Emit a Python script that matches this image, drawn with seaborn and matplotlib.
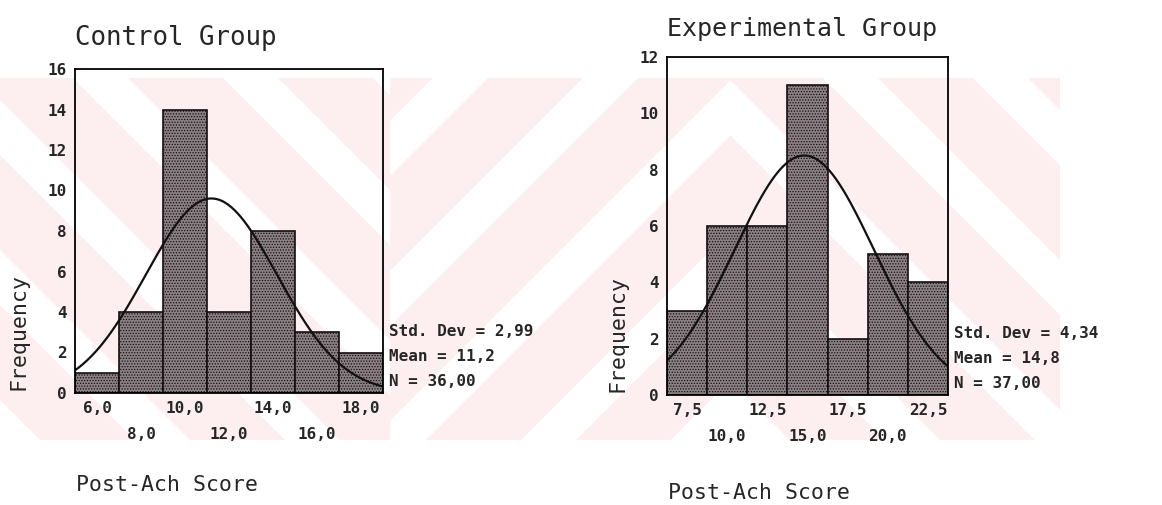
import numpy as np
import pandas as pd
import matplotlib
matplotlib.use("Agg")
import matplotlib.pyplot as plt
import seaborn as sns
from matplotlib.patches import Polygon, Rectangle

# ---- data ----
ctrl_centers = [6, 8, 10, 12, 14, 16, 18]
ctrl_counts = [1, 4, 14, 4, 8, 3, 2]
ctrl_ticklabels = ["6,0", "8,0", "10,0", "12,0", "14,0", "16,0", "18,0"]
ctrl_stats = ["Std. Dev = 2,99", "Mean = 11,2", "N = 36,00"]
ctrl_mean, ctrl_sd, ctrl_n = 11.2, 2.99, 36

exp_centers = [7.5, 10, 12.5, 15, 17.5, 20, 22.5]
exp_counts = [3, 6, 6, 11, 2, 5, 4]
exp_ticklabels = ["7,5", "10,0", "12,5", "15,0", "17,5", "20,0", "22,5"]
exp_stats = ["Std. Dev = 4,34", "Mean = 14,8", "N = 37,00"]
exp_mean, exp_sd, exp_n = 14.8, 4.34, 37

sns.set_style("white")
plt.rcParams["font.family"] = ["DejaVu Sans Mono"]
plt.rcParams["hatch.linewidth"] = 0.6

W, H = 1162, 505
fig = plt.figure(figsize=(W / 100, H / 100), dpi=100)

# faint pink watermark from the scan (drawn behind everything)
PINK = "#fdeef0"
Y0, Y1 = 78, 440


def px(x, y):
    return (x / W, 1 - y / H)


def bands(x_from, x_to, direction, offset=0, period=150, width=95):
    clip = Rectangle(px(x_from, Y1), (x_to - x_from) / W, (Y1 - Y0) / H,
                     transform=fig.transFigure, visible=False)
    fig.patches.append(clip)
    span = Y1 - Y0
    shift = span if direction == "\\" else -span
    for xt in np.arange(x_from - span - period + offset, x_to + span + period, period):
        pts = [px(xt, Y0), px(xt + width, Y0),
               px(xt + width + shift, Y1), px(xt + shift, Y1)]
        p = Polygon(pts, closed=True, transform=fig.transFigure,
                    facecolor=PINK, edgecolor="none", zorder=-10)
        p.set_clip_path(clip)
        fig.patches.append(p)


bands(0, 390, "\\", offset=40)
bands(390, 730, "/", offset=10)
bands(730, 1060, "\\", offset=60)


def panel(rect, centers, counts, width, mean, sd, n, ymax, ticklabels,
          stats, title, title_size, title_pad, xlabel_y, ylabel_x, ylabel_y):
    ax = fig.add_axes(rect)
    ax.set_facecolor("none")
    df = pd.DataFrame({"score": centers, "count": counts})
    lo, hi = centers[0] - width / 2, centers[-1] + width / 2
    sns.histplot(data=df, x="score", weights="count", binwidth=width,
                 binrange=(lo, hi), ax=ax,
                 color="#8b8184", edgecolor="#140e10", linewidth=1.2,
                 alpha=1, hatch="......")
    # fitted normal curve
    xs = np.linspace(lo, hi, 300)
    ys = n * width * np.exp(-0.5 * ((xs - mean) / sd) ** 2) / (sd * np.sqrt(2 * np.pi))
    sns.lineplot(x=xs, y=ys, ax=ax, color="#111111", linewidth=1.6)

    ax.set_xlim(lo, hi)
    ax.set_ylim(0, ymax)
    ax.set_yticks(range(0, ymax + 1, 2))
    ax.set_xticks(centers)
    ax.set_xticklabels([t if i % 2 == 0 else "\n" + t
                        for i, t in enumerate(ticklabels)],
                       fontsize=11.5, fontweight="bold", linespacing=1.9)
    for lab in ax.get_yticklabels():
        lab.set_fontsize(11.5)
        lab.set_fontweight("bold")
    ax.tick_params(axis="both", length=3, width=1.5, direction="out",
                   color="black", pad=3)
    ax.set_xlabel("")
    ax.set_ylabel("")
    for s in ax.spines.values():
        s.set_visible(True)
        s.set_color("black")
        s.set_linewidth(1.3)
    ax.set_title(title, loc="left", fontsize=title_size, pad=title_pad)

    for k, s in enumerate(stats):
        ax.annotate(s, xy=(1, 0), xycoords="axes fraction",
                    xytext=(4, 8 + 18 * (2 - k)), textcoords="offset points",
                    fontsize=11.5, fontweight="bold", va="center", ha="left")

    x0 = rect[0]
    fig.text(x0 + 0.001, 1 - xlabel_y / H, "Post-Ach Score",
             fontsize=15.5, va="center", ha="left")
    fig.text(ylabel_x / W, 1 - ylabel_y / H, "Frequency", rotation=90,
             fontsize=15.5, va="center", ha="center")
    return ax


panel([75 / W, 1 - 393 / H, 308 / W, 324 / H], ctrl_centers, ctrl_counts, 2,
      ctrl_mean, ctrl_sd, ctrl_n, 16, ctrl_ticklabels, ctrl_stats,
      "Control Group", 18.5, 17, 485, 19, 331)
panel([667 / W, 1 - 395 / H, 281 / W, 338 / H], exp_centers, exp_counts, 2.5,
      exp_mean, exp_sd, exp_n, 12, exp_ticklabels, exp_stats,
      "Experimental Group", 18, 15, 493, 618, 333)

fig.savefig("out.png", dpi=100)
